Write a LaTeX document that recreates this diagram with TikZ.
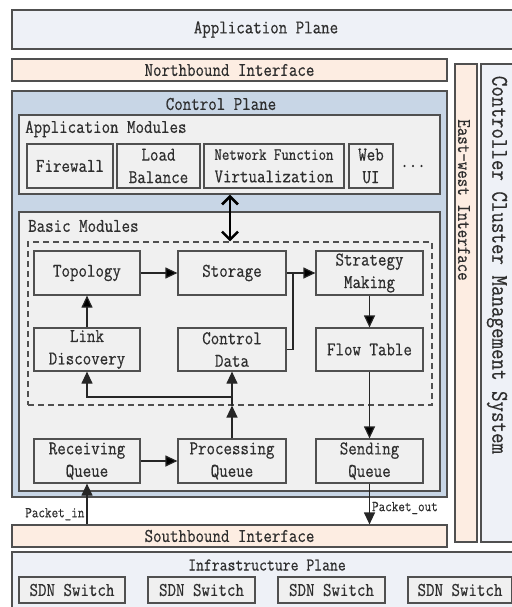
\documentclass[tikz,border=0pt]{standalone}
\usepackage{fontspec}
\setmonofont[FakeStretch=0.85,FakeBold=0.5]{Latin Modern Mono}
\usetikzlibrary{arrows.meta}
\definecolor{planefill}{HTML}{EEF1F7}
\definecolor{ifacefill}{HTML}{FDEDE2}
\definecolor{ctrlfill}{HTML}{C8D6E6}
\definecolor{modfill}{HTML}{F0F0F0}
\definecolor{edgegray}{HTML}{505050}
\definecolor{txtgray}{HTML}{2E2E2E}

\tikzset{
  box/.style={draw=edgegray, line width=1.2pt, inner sep=0pt, align=center, text=txtgray},
  plane/.style={box, fill=planefill},
  iface/.style={box, fill=ifacefill},
  module/.style={box, fill=modfill},
  lbl/.style={inner sep=0pt, text=txtgray},
  smalltext/.style={font=\ttfamily\fontsize{15}{17}\selectfont},
  arr/.style={-{Triangle[length=12pt,width=11pt]}, line width=1.2pt, draw=black!85},
}

\begin{document}
\begin{tikzpicture}[x=1pt, y=-1pt, font=\ttfamily\fontsize{19.4}{22.5}\selectfont]
            \useasboundingbox (0,0) rectangle (511,607);
            % planes and interfaces
            \node[plane, minimum width=508pt, minimum height=39pt](app)   at (266,29.5)  {Application Plane};
            \node[iface, minimum width=435pt, minimum height=22pt](nb)    at (229.5,70)  {Northbound Interface};
            \node[iface, minimum width=22pt, minimum height=478pt](ew)    at (466,303)   {};
            \node[lbl, rotate=-90](ewlabel)                               at (464,200)   {East-west Interface};
            \node[plane, minimum width=39pt, minimum height=478pt](ccms)  at (500.5,303) {};
            \node[lbl, rotate=-90, font=\ttfamily\fontsize{24}{26}\selectfont](ccmslabel) at (497,265) {Controller Cluster Management System};
            \node[box, fill=ctrlfill, minimum width=435pt, minimum height=406pt](cp) at (229.5,294) {};
            \node[lbl](cplabel)                                           at (221,104)   {Control Plane};
            % application modules
            \node[module, minimum width=421pt, minimum height=79pt](appmod) at (229.5,154.5) {};
            \node[lbl, anchor=west](amlabel)                              at (25,129)    {Application Modules};
            \node[module, minimum width=86pt,  minimum height=44pt](fw)   at (70,166)    {Firewall};
            \node[module, minimum width=83pt,  minimum height=44pt](lb)   at (158.5,166) {Load\\Balance};
            \node[module, minimum width=140pt, minimum height=44pt](nfv)  at (274,166)   {{\fontsize{17}{20}\selectfont Network Function}\\Virtualization};
            \node[module, minimum width=44pt,  minimum height=44pt](web)  at (371,166)   {Web\\UI};
            \node[lbl](dots)                                              at (413,166)   {...};
            % basic modules
            \node[module, minimum width=421pt, minimum height=279pt](basic) at (229.5,351.5) {};
            \node[lbl, anchor=west](bmlabel)                              at (28,226)    {Basic Modules};
            \node[draw=edgegray, line width=1.1pt, dash pattern=on 6pt off 4pt,
                  minimum width=404pt, minimum height=163pt](basicarea)   at (230,323.5) {};
            \node[module, minimum width=106pt, minimum height=44pt](topo)  at (87,273)    {Topology};
            \node[module, minimum width=108pt, minimum height=44pt](stor)  at (232,273)   {Storage};
            \node[module, minimum width=107pt, minimum height=44pt](strat) at (369.5,273) {Strategy\\Making};
            \node[module, minimum width=106pt, minimum height=43pt](link)  at (87,349.5)  {Link\\Discovery};
            \node[module, minimum width=108pt, minimum height=43pt](ctrl)  at (232,349.5) {Control\\Data};
            \node[module, minimum width=107pt, minimum height=43pt](flow)  at (369.5,349.5) {Flow Table};
            \node[module, minimum width=106pt, minimum height=44pt](recv)  at (87,461)    {Receiving\\Queue};
            \node[module, minimum width=108pt, minimum height=44pt](proc)  at (232,461)   {Processing\\Queue};
            \node[module, minimum width=107pt, minimum height=44pt](send)  at (369.5,461) {Sending\\Queue};
            \node[iface, minimum width=435pt, minimum height=22pt](sb)    at (229.5,536) {Southbound Interface};
            % infrastructure plane
            \node[plane, minimum width=508pt, minimum height=63pt](infra) at (266,583.5) {};
            \node[lbl, font=\ttfamily\fontsize{18}{20}\selectfont](inlabel) at (267,565) {Infrastructure Plane};
            \node[module, minimum width=106pt, minimum height=26pt](sw1)  at (72,590)    {SDN Switch};
            \node[module, minimum width=107pt, minimum height=26pt](sw2)  at (201.5,590) {SDN Switch};
            \node[module, minimum width=107pt, minimum height=26pt](sw3)  at (331.5,590) {SDN Switch};
            \node[module, minimum width=104pt, minimum height=26pt](sw4)  at (460,590)   {SDN Switch};
            \coordinate (j1) at (293,273);
            \coordinate (j2) at (232,397);
            % connectors
            \draw[{Straight Barb[length=8pt,width=16pt]}-{Straight Barb[length=8pt,width=16pt]}, line width=2.6pt]
                (appmod.south -| basicarea.north) -- (basicarea.north);
            \path[arr]
                (link) edge (topo)
                (topo) edge (stor)
                (stor) edge (strat)
                (strat) edge (flow)
                (flow) edge (send)
                (recv) edge (proc)
                ;
            \draw[line width=1.2pt, black!85] (ctrl.east) -| (j1);
            \draw[arr] (proc.north) -- (proc.north |- basicarea.south);
            \draw[arr] (proc.north |- basicarea.south) -- (ctrl.south);
            \draw[arr] (j2) -| (link.south);
            \draw[arr] (sb.north -| recv.south) -- node[left, pos=0.25, smalltext, lbl, inner sep=2pt](pin) {Packet\_in} (recv.south);
            \draw[arr] (send.south) -- node[right, pos=0.6, smalltext, lbl, inner sep=2pt](pout) {Packet\_out} (sb.north -| send.south);
        \end{tikzpicture}
\end{document}
